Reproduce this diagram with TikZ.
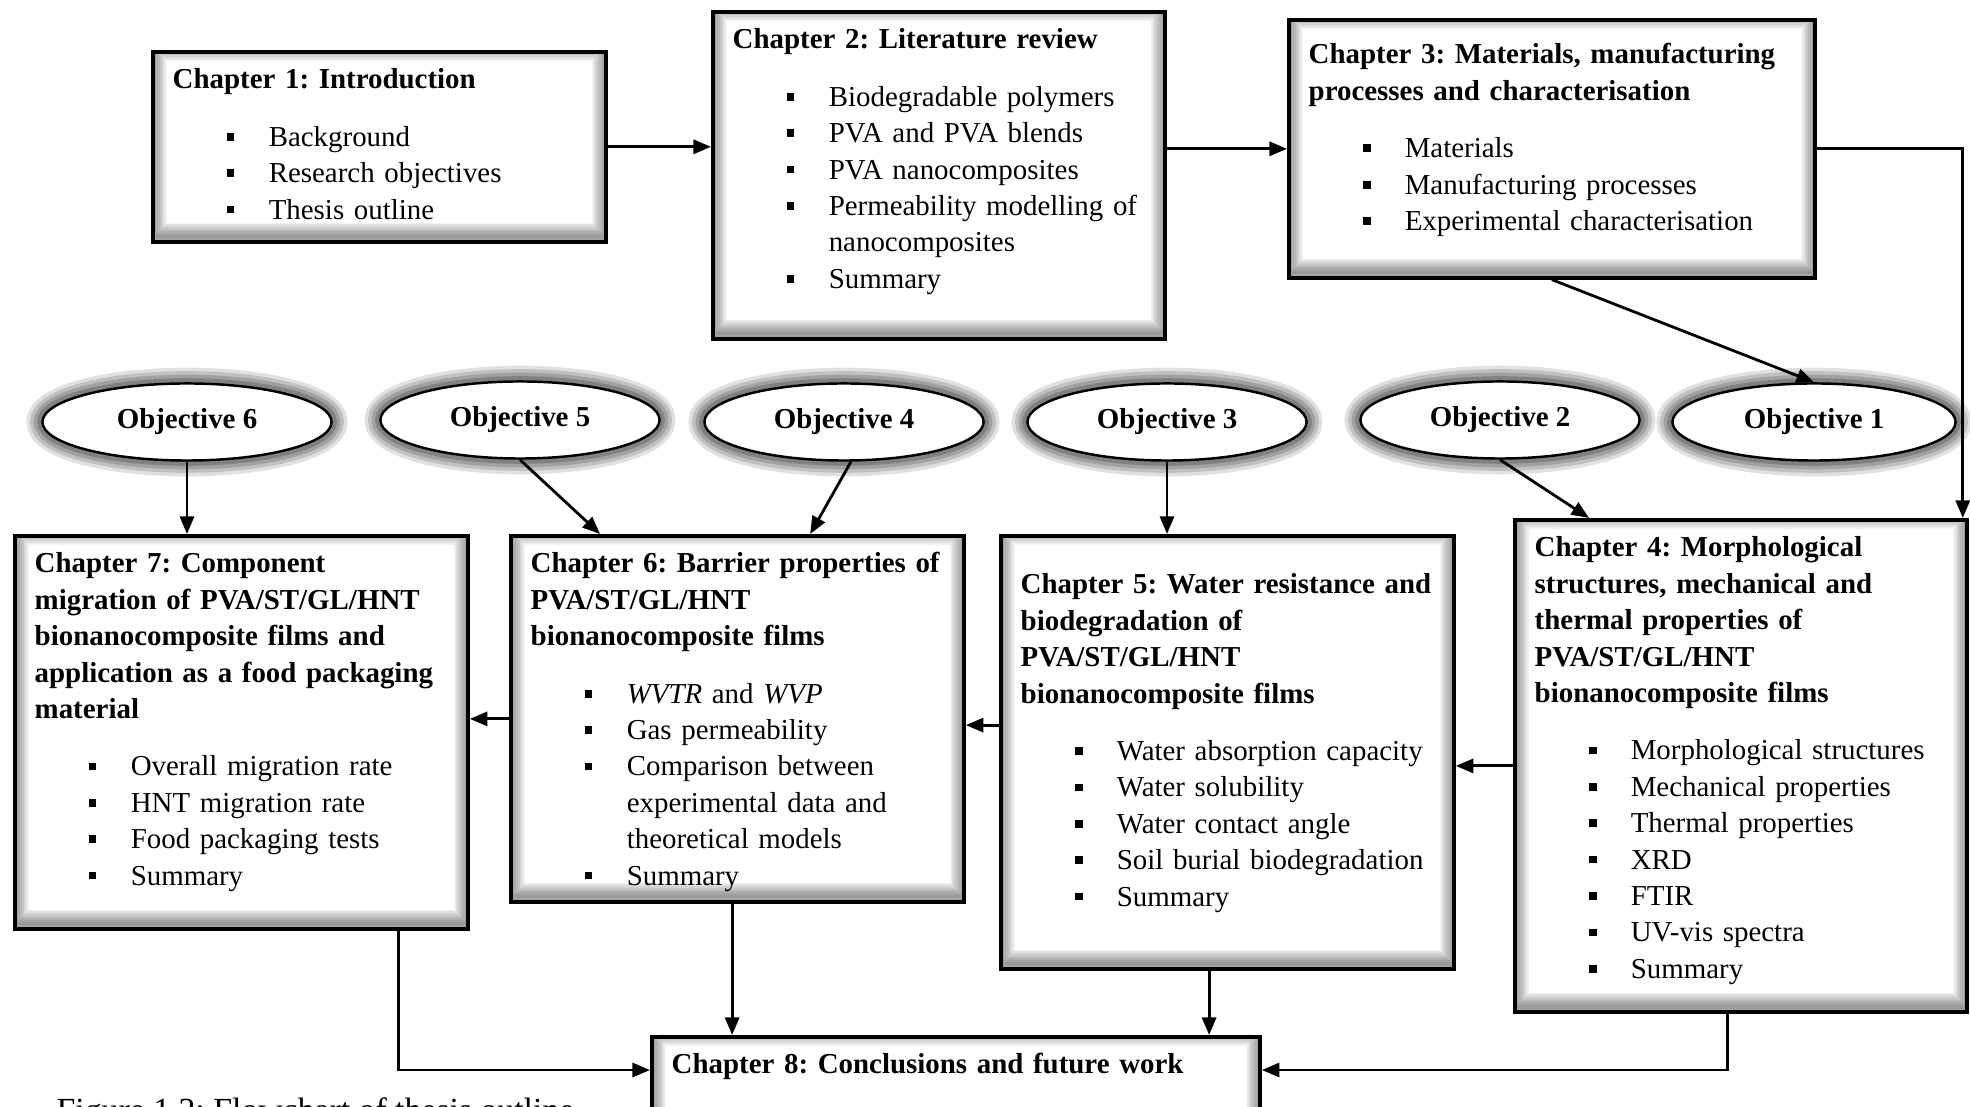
\documentclass[tikz,border=0pt]{standalone}
\usepackage{fontspec}
\setmainfont{Liberation Serif}
\usetikzlibrary{positioning,arrows.meta,shapes.geometric}
\setlength{\parindent}{0pt}
\frenchspacing
\newcommand{\chead}[1]{\textbf{#1}}
\newcommand{\bitem}{\makebox[0.96cm][l]{\hspace*{0.54cm}\rule[1.6pt]{2.2pt}{2.2pt}}}
\newcommand{\bcont}{\hspace*{0.96cm}}
\tikzset{
    chapbox/.style={draw=black, line width=1pt, fill=white, anchor=north west, inner sep=0pt,
        path picture={\foreach \w in {1,2,...,8}
            \draw[black, opacity=0.06, line width=\w pt]
            ([yshift=1.5pt]path picture bounding box.south west) rectangle ([yshift=1.5pt]path picture bounding box.north east);}},
    chaptext/.style={anchor=north west, inner sep=0pt, align=left, text width=7cm,
        font=\fontsize{8.22pt}{10.35pt}\selectfont, execute at begin node={\rule{0pt}{8pt}}},
    objective/.style={ellipse, draw=black, line width=0.7pt, fill=white, inner sep=0pt,
        minimum width=2.79cm, minimum height=0.77cm, font=\fontsize{8.22pt}{10pt}\selectfont\bfseries,
        preaction={draw=black, opacity=0.12, line width=9pt},
        preaction={draw=black, opacity=0.14, line width=7pt},
        preaction={draw=black, opacity=0.16, line width=5pt},
        preaction={draw=black, opacity=0.2, line width=3pt}},
    arrow/.style={-{Triangle[length=5pt,width=4pt]}, line width=0.8pt, draw=black}
}
\begin{document}
\begin{tikzpicture}[x=0.01cm, y=-0.01cm]
\useasboundingbox (0,0) rectangle (1970,1107);
\clip (0,0) rectangle (1970,1107);

\node[anchor=base west, inner sep=0pt, font=\fontsize{9.6pt}{11pt}\selectfont] (caption) at (56,1121) {Figure 1.2: Flowchart of thesis outline};

\node[chapbox, minimum width=4.53cm, minimum height=1.90cm] (ch1) at (151,50) {};
\node[chapbox, minimum width=4.52cm, minimum height=3.27cm] (ch2) at (711,10) {};
\node[chapbox, minimum width=5.26cm, minimum height=2.58cm] (ch3) at (1287,18) {};
\node[chapbox, minimum width=4.52cm, minimum height=4.92cm] (ch4) at (1513,518) {};
\node[chapbox, minimum width=4.53cm, minimum height=4.33cm] (ch5) at (999,534) {};
\node[chapbox, minimum width=4.53cm, minimum height=3.66cm] (ch6) at (509,534) {};
\node[chapbox, minimum width=4.53cm, minimum height=3.93cm] (ch7) at (13,534) {};
\node[chapbox, minimum width=6.08cm, minimum height=1.10cm] (ch8) at (650,1035) {};

\node[chaptext, below right=0.10cm and 0.21cm of ch1.north west] (ch1txt) {\chead{Chapter 1: Introduction}\\[6pt]
    \bitem Background\\ \bitem Research objectives\\ \bitem Thesis outline};
\node[chaptext, below right=0.10cm and 0.21cm of ch2.north west] (ch2txt) {\chead{Chapter 2: Literature review}\\[6pt]
    \bitem Biodegradable polymers\\ \bitem PVA and PVA blends\\ \bitem PVA nanocomposites\\
    \bitem Permeability modelling of\\ \bcont nanocomposites\\ \bitem Summary};
\node[chaptext, below right=0.17cm and 0.21cm of ch3.north west] (ch3txt) {\chead{Chapter 3: Materials, manufacturing}\\
    \chead{processes and characterisation}\\[6pt]
    \bitem Materials\\ \bitem Manufacturing processes\\ \bitem Experimental characterisation};
\node[chaptext, below right=0.10cm and 0.21cm of ch4.north west] (ch4txt) {\chead{Chapter 4: Morphological}\\
    \chead{structures, mechanical and}\\ \chead{thermal properties of}\\ \chead{PVA/ST/GL/HNT}\\
    \chead{bionanocomposite films}\\[6pt]
    \bitem Morphological structures\\ \bitem Mechanical properties\\ \bitem Thermal properties\\
    \bitem XRD\\ \bitem FTIR\\ \bitem UV-vis spectra\\ \bitem Summary};
\node[chaptext, below right=0.31cm and 0.21cm of ch5.north west] (ch5txt) {\chead{Chapter 5: Water resistance and}\\
    \chead{biodegradation of}\\ \chead{PVA/ST/GL/HNT}\\ \chead{bionanocomposite films}\\[6pt]
    \bitem Water absorption capacity\\ \bitem Water solubility\\ \bitem Water contact angle\\
    \bitem Soil burial biodegradation\\ \bitem Summary};
\node[chaptext, below right=0.10cm and 0.21cm of ch6.north west] (ch6txt) {\chead{Chapter 6: Barrier properties of}\\
    \chead{PVA/ST/GL/HNT}\\ \chead{bionanocomposite films}\\[6pt]
    \bitem \textit{WVTR} and \textit{WVP}\\ \bitem Gas permeability\\ \bitem Comparison between\\
    \bcont experimental data and\\ \bcont theoretical models\\ \bitem Summary};
\node[chaptext, below right=0.10cm and 0.21cm of ch7.north west] (ch7txt) {\chead{Chapter 7: Component}\\
    \chead{migration of PVA/ST/GL/HNT}\\ \chead{bionanocomposite films and}\\
    \chead{application as a food packaging}\\ \chead{material}\\[6pt]
    \bitem Overall migration rate\\ \bitem HNT migration rate\\ \bitem Food packaging tests\\ \bitem Summary};
\node[chaptext, below right=0.10cm and 0.21cm of ch8.north west] (ch8txt) {\chead{Chapter 8: Conclusions and future work}};

\node[objective, minimum width=2.89cm] (obj6) at (187,422) {Objective 6};
\node[objective] (obj5) at (520,420) {Objective 5};
\node[objective] (obj4) at (844,422) {Objective 4};
\node[objective] (obj3) at (1167,422) {Objective 3};
\node[objective] (obj2) at (1500,420) {Objective 2};
\node[objective, minimum width=2.83cm] (obj1) at (1814,422) {Objective 1};

\draw[arrow] (ch1.east) -- (ch1.east -| ch2.west);
\draw[arrow] (ch3.west -| ch2.east) -- (ch3.west);
\draw[arrow] (ch3.east) -| ([xshift=-0.06cm]ch4.north east);
\draw[arrow] (ch3.south) -- (obj1.north);
\draw[arrow] (obj6.south) -- (obj6.south |- ch7.north);
\draw[arrow] (obj5.south) -- ([xshift=0.91cm]ch6.north west);
\draw[arrow] (obj4.-80) -- ([xshift=3.01cm]ch6.north west);
\draw[arrow] (obj3.south) -- (obj3.south |- ch5.north);
\draw[arrow] (obj2.south) -- ([xshift=0.76cm]ch4.north west);
\draw[arrow] (ch4.west) -- (ch4.west -| ch5.east);
\draw[arrow] ([yshift=-1.91cm]ch5.north west) -- ([yshift=-1.91cm]ch5.north west -| ch6.east);
\draw[arrow] (ch6.west) -- (ch6.west -| ch7.east);
\draw[arrow] ([xshift=3.85cm]ch7.south west) |- ([yshift=-0.35cm]ch8.north west);
\draw[arrow] ([xshift=2.23cm]ch6.south west) -- ([xshift=2.23cm]ch6.south west |- ch8.north);
\draw[arrow] ([xshift=2.10cm]ch5.south west) -- ([xshift=2.10cm]ch5.south west |- ch8.north);
\draw[arrow] ([xshift=2.14cm]ch4.south west) |- ([yshift=-0.35cm]ch8.north east);
\end{tikzpicture}
\end{document}
